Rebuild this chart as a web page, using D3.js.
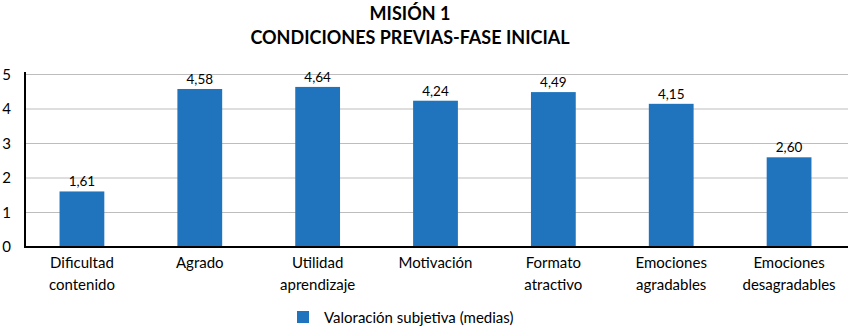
<!DOCTYPE html>
<html><head><meta charset="utf-8">
<script src="https://cdn.jsdelivr.net/npm/d3@7"></script>
<style>body{margin:0;background:#fff}svg{display:block}</style>
</head><body>
<svg id="c" width="855" height="333"></svg>
<script>
const categories = [["Dificultad","contenido"],["Agrado"],["Utilidad","aprendizaje"],["Motivación"],["Formato","atractivo"],["Emociones","agradables"],["Emociones","desagradables"]];
const values = [1.61, 4.58, 4.64, 4.24, 4.49, 4.15, 2.60];
const yTicks = [0,1,2,3,4,5];
const titleLines = ["MISIÓN 1","CONDICIONES PREVIAS-FASE INICIAL"];
const seriesName = "Valoración subjetiva (medias)";

const font = "Lato, 'Open Sans', sans-serif";
const color = "#1f74bd";
const svg = d3.select("#c");
const x = d3.scaleBand().domain(d3.range(values.length)).range([23, 848]).paddingInner(0.62).paddingOuter(0.31);
const y = d3.scaleLinear().domain([0,5]).range([247, 74.5]);

svg.append("g").selectAll("line").data(yTicks.filter(d=>d>0)).join("line")
  .attr("x1",25).attr("x2",848).attr("y1",d=>y(d)).attr("y2",d=>y(d))
  .attr("stroke","#bdbdbd").attr("stroke-width",1);

svg.append("g").selectAll("rect").data(values).join("rect")
  .attr("x",(d,i)=>x(i)).attr("width",x.bandwidth())
  .attr("y",d=>y(d)).attr("height",d=>y(0)-y(d)).attr("fill",color);

svg.append("g").selectAll("text").data(values).join("text")
  .attr("x",(d,i)=>x(i)+x.bandwidth()/2).attr("y",d=>y(d)-5)
  .attr("text-anchor","middle").attr("font-family",font).attr("font-size",13.5)
  .text(d=>d.toFixed(2).replace(".",","));

const yAxis = d3.axisLeft(y).tickValues(yTicks).tickFormat(d3.format("d")).tickSize(0).tickPadding(14);
const ga = svg.append("g").attr("transform","translate(25,0)").call(yAxis);
ga.select(".domain").remove();
ga.selectAll("text").attr("font-family",font).attr("font-size",15).attr("fill","#000");
svg.append("line").attr("x1",25).attr("x2",25).attr("y1",72).attr("y2",247).attr("stroke","#000").attr("stroke-width",2);
svg.append("line").attr("x1",24).attr("x2",848).attr("y1",247).attr("y2",247).attr("stroke","#000").attr("stroke-width",2);

const gx = svg.append("g");
categories.forEach((lines,i)=>{
  const t = gx.append("text").attr("text-anchor","middle").attr("font-family",font).attr("font-size",15)
    .attr("x",x(i)+x.bandwidth()/2);
  lines.forEach((l,j)=>t.append("tspan").attr("x",x(i)+x.bandwidth()/2).attr("y",268+j*22).text(l));
});

const tt = svg.append("text").attr("text-anchor","middle").attr("font-family",font).attr("font-weight","bold").attr("font-size",18);
titleLines.forEach((l,j)=>tt.append("tspan").attr("x",410).attr("y",20+j*24).text(l));

svg.append("rect").attr("x",297).attr("y",311).attr("width",12).attr("height",12).attr("fill",color);
svg.append("text").attr("x",324).attr("y",323).attr("font-family",font).attr("font-size",15).text(seriesName);
</script>
</body></html>
